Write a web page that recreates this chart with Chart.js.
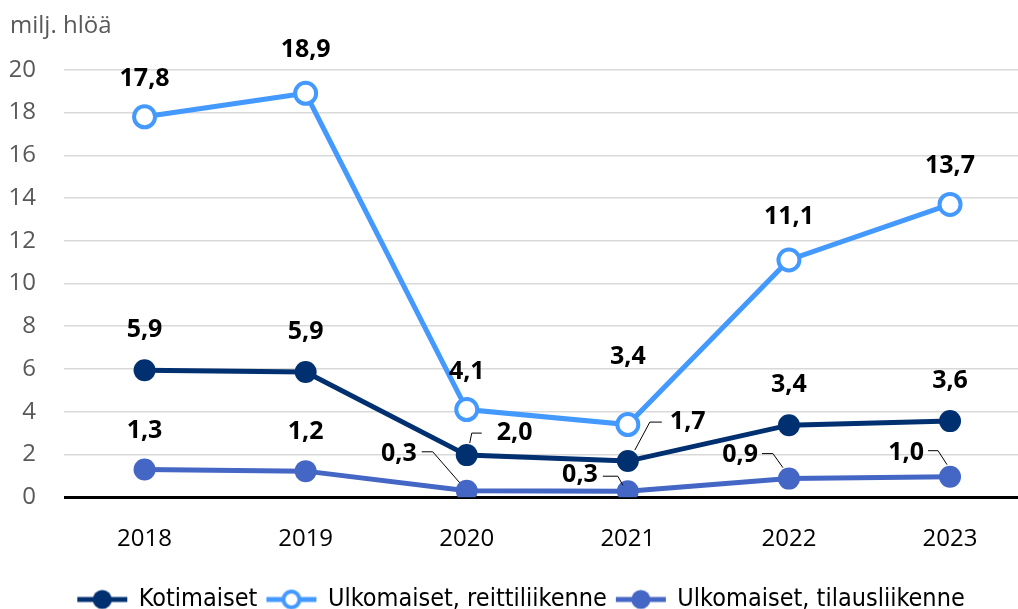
<!DOCTYPE html>
<html>
<head>
<meta charset="utf-8">
<script src="https://cdn.jsdelivr.net/npm/chart.js@4"></script>
<style>
    html, body { margin: 0; padding: 0; background: #fff; overflow: hidden; }
    #wrap { width: 1033px; height: 609px; }
</style>
</head>
<body>
<div id="wrap"><canvas id="chart"></canvas></div>
<script>
// chart data
const years = ['2018', '2019', '2020', '2021', '2022', '2023'];
const kotimaiset = [5.94, 5.86, 1.97, 1.69, 3.37, 3.56];
const reittiliikenne = [17.8, 18.9, 4.1, 3.4, 11.1, 13.7];
const tilausliikenne = [1.3, 1.22, 0.3, 0.28, 0.87, 0.96];
const seriesNames = ['Kotimaiset', 'Ulkomaiset, reittiliikenne', 'Ulkomaiset, tilausliikenne'];
const yTicks = [0, 2, 4, 6, 8, 10, 12, 14, 16, 18, 20];
const unitLabel = 'milj. hlöä';

const colors = ['#003070', '#4499ff', '#4466c4'];
const baseFont = '"Open Sans", "Noto Sans", sans-serif';

// label placement per point (offsets from the point, plus optional leader line)
const labelPlacement = [
    [{ dy: -40 }, { dy: -40 },
     { tx: 30, ty: -22, align: 'left', line: [[3, -12], [5, -22], [15, -22]] },
     { tx: 42, ty: -39, align: 'left', line: [[7, -11], [22, -39], [34, -39]] },
     { dy: -40 }, { dy: -40 }],
    [{ dy: -38 }, { dy: -43 }, { dy: -38 }, { dy: -68 }, { dy: -43 }, { dy: -39 }],
    [{ dy: -39 }, { dy: -39 },
     { tx: -50, ty: -37, align: 'right', line: [[-7, -8], [-34, -39], [-45, -39]] },
     { tx: -30, ty: -16, align: 'right', line: [[-5, -6], [-10, -15], [-25, -15]] },
     { tx: -31, ty: -24, align: 'right', line: [[-6, -11], [-16, -25], [-27, -25]] },
     { tx: -26, ty: -24, align: 'right', line: [[-3, -12], [-12, -26], [-22, -26]] }]
];

const labelFont = 'bold 25px ' + baseFont;

const valueLabels = {
    id: 'valueLabels',
    afterDatasetsDraw(chart) {
        const ctx = chart.ctx;
        ctx.save();
        ctx.font = labelFont;
        ctx.fillStyle = '#000';
        ctx.strokeStyle = '#000';
        ctx.lineWidth = 1;
        ctx.textBaseline = 'middle';
        chart.data.datasets.forEach((ds, di) => {
            const meta = chart.getDatasetMeta(di);
            meta.data.forEach((pt, i) => {
                const p = labelPlacement[di][i];
                const text = ds.data[i].y.toFixed(1).replace('.', ',');
                if (p.line) {
                    ctx.beginPath();
                    p.line.forEach(([dx, dy], k) => {
                        if (k === 0) ctx.moveTo(pt.x + dx, pt.y + dy);
                        else ctx.lineTo(pt.x + dx, pt.y + dy);
                    });
                    ctx.stroke();
                    ctx.textAlign = p.align;
                    ctx.fillText(text, pt.x + p.tx, pt.y + p.ty);
                } else {
                    ctx.textAlign = 'center';
                    ctx.fillText(text, pt.x, pt.y + p.dy);
                }
            });
        });
        ctx.restore();
    }
};

// legend marker: short line with a circle
function legendMarker(color, hollow) {
    const c = document.createElement('canvas');
    c.width = 54;
    c.height = 26;
    const g = c.getContext('2d');
    g.strokeStyle = color;
    g.lineWidth = 5;
    g.beginPath();
    g.moveTo(2, 13);
    g.lineTo(52, 13);
    g.stroke();
    g.beginPath();
    if (hollow) {
        g.arc(27, 13, 8, 0, Math.PI * 2);
        g.fillStyle = '#fff';
        g.fill();
        g.lineWidth = 4;
        g.stroke();
    } else {
        g.arc(27, 13, 9.5, 0, Math.PI * 2);
        g.fillStyle = color;
        g.fill();
    }
    return c;
}
const markers = [legendMarker(colors[0], false), legendMarker(colors[1], true), legendMarker(colors[2], false)];

function toPoints(values) {
    return values.map((v, i) => ({ x: i, y: v }));
}

function makeDataset(idx, values, hollow) {
    return {
        label: seriesNames[idx],
        data: toPoints(values),
        borderColor: colors[idx],
        backgroundColor: hollow ? '#ffffff' : colors[idx],
        pointBackgroundColor: hollow ? '#ffffff' : colors[idx],
        pointBorderColor: colors[idx],
        pointBorderWidth: hollow ? 4 : 0,
        pointRadius: hollow ? 10.5 : 11,
        pointHoverRadius: hollow ? 10.5 : 11,
        borderWidth: 5,
        tension: 0
    };
}

new Chart(document.getElementById('chart'), {
    type: 'line',
    data: {
        datasets: [
            makeDataset(0, kotimaiset, false),
            makeDataset(1, reittiliikenne, true),
            makeDataset(2, tilausliikenne, false)
        ]
    },
    options: {
        responsive: true,
        maintainAspectRatio: false,
        animation: false,
        layout: { padding: { left: 10, right: 0, top: 0, bottom: -13 } },
        plugins: {
            title: {
                display: true,
                text: unitLabel,
                align: 'start',
                color: '#595959',
                font: { family: baseFont, size: 24, weight: 'normal' },
                padding: { top: 12, bottom: 29 }
            },
            legend: {
                position: 'bottom',
                labels: {
                    usePointStyle: true,
                    pointStyleWidth: 48,
                    color: '#000',
                    padding: 10,
                    font: { family: '"Liberation Sans Narrow", "DejaVu Sans Condensed", sans-serif', size: 25 },
                    generateLabels(chart) {
                        const items = Chart.defaults.plugins.legend.labels.generateLabels(chart);
                        items.forEach((it, i) => { it.pointStyle = markers[i]; });
                        return items;
                    }
                }
            },
            tooltip: { enabled: false }
        },
        scales: {
            x: {
                type: 'linear',
                min: -0.5,
                max: 5.425,
                grid: { display: false, drawTicks: false },
                border: { display: false },
                afterBuildTicks(scale) {
                    scale.ticks = years.map((_, i) => ({ value: i }));
                },
                afterFit(scale) {
                    scale.height -= 5;
                    scale.paddingLeft = 0;
                    scale.paddingRight = 0;
                },
                ticks: {
                    color: '#000',
                    padding: 28,
                    font: { family: baseFont, size: 24 },
                    callback: (v) => years[v]
                }
            },
            y: {
                min: 0,
                max: 20,
                afterBuildTicks(scale) {
                    scale.ticks = yTicks.map(v => ({ value: v }));
                },
                afterFit(scale) {
                    scale.width = 54;
                },
                border: { display: false },
                grid: {
                    drawTicks: false,
                    color: (c) => c.tick && c.tick.value === 0 ? '#000' : '#d9d9d9',
                    lineWidth: (c) => c.tick && c.tick.value === 0 ? 3 : 1.5
                },
                ticks: {
                    color: '#595959',
                    padding: 28,
                    font: { family: baseFont, size: 24 }
                }
            }
        }
    },
    plugins: [valueLabels]
});
</script>
</body>
</html>
